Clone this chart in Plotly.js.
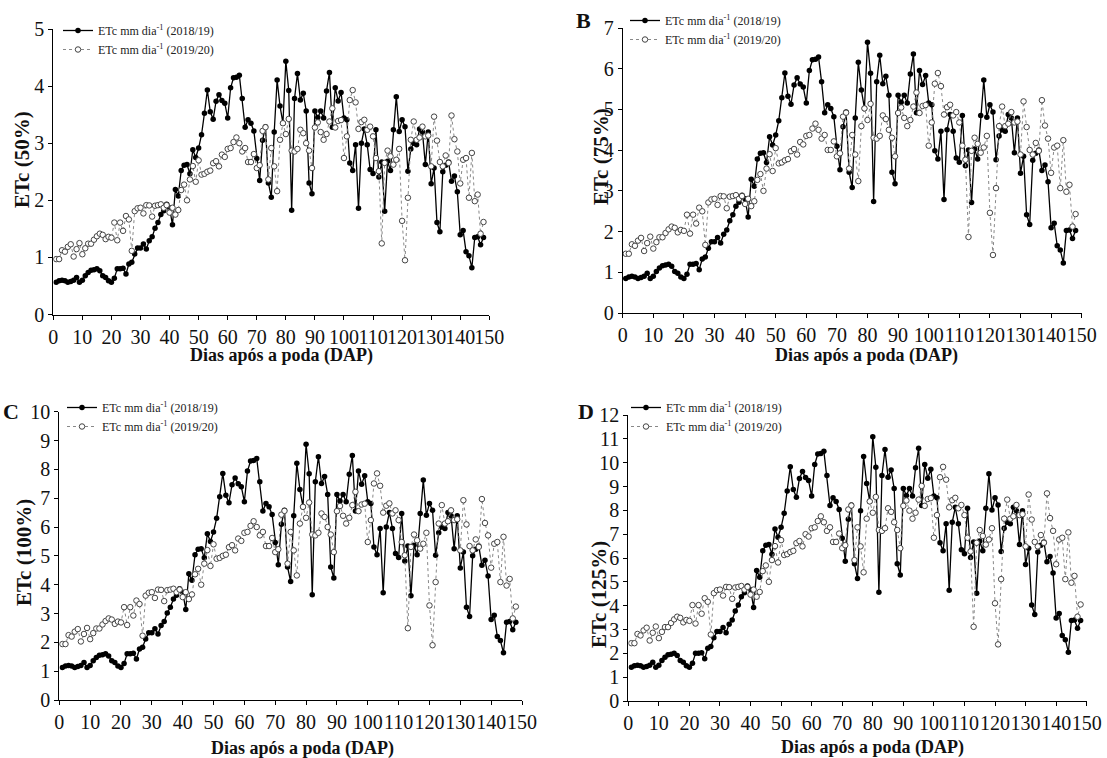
<!DOCTYPE html>
<html>
<head>
<meta charset="utf-8">
<script src="https://cdn.plot.ly/plotly-3.0.1.min.js"></script>
<style>html,body{margin:0;padding:0;background:#fff;}#chart{width:1107px;height:758px;}</style>
</head>
<body>
<div id="chart"></div>
<script>
// Days after pruning (DAP)
const days = Array.from({length: 148}, (_, i) => i + 1);

// ETc (mm dia-1) at 100% level, season 2018/19 (filled markers)
const etc2018 = [
  1.13,1.18,1.20,1.18,1.13,1.16,1.20,1.30,1.13,1.20,
  1.36,1.47,1.55,1.57,1.60,1.53,1.36,1.30,1.18,1.13,
  1.27,1.60,1.60,1.62,1.42,1.77,1.83,2.12,2.33,2.33,
  2.47,2.29,2.58,2.72,3.02,3.22,3.50,3.63,3.86,3.74,
  3.14,4.38,4.15,5.04,5.23,5.25,4.93,5.77,5.50,5.83,
  6.30,7.05,7.86,7.10,6.84,7.47,7.70,7.50,7.40,6.88,
  7.94,8.29,8.31,8.38,7.57,6.56,6.82,6.70,6.43,5.46,
  4.69,6.10,6.58,4.61,4.11,6.39,8.21,7.30,6.70,8.87,
  7.85,3.65,7.57,8.44,7.51,7.75,7.13,4.61,4.23,7.13,
  6.90,7.13,6.88,7.83,8.48,6.56,7.94,7.48,7.78,6.88,
  6.82,5.31,5.04,5.95,3.72,6.00,6.50,5.95,5.08,4.94,
  6.47,4.82,5.34,3.62,5.37,5.04,6.47,7.63,6.41,6.82,
  6.58,5.02,5.80,6.00,5.95,6.50,6.39,5.25,6.39,4.58,
  5.13,3.22,2.90,5.00,5.23,5.34,4.67,4.85,4.30,2.79,
  2.94,2.20,2.06,1.64,2.70,2.72,2.44,2.70
];

// ETc (mm dia-1) at 100% level, season 2019/20 (open markers)
const etc2019 = [
  1.94,1.94,2.25,2.20,2.37,2.46,2.03,2.29,2.50,2.11,
  2.32,2.48,2.48,2.62,2.74,2.83,2.79,2.64,2.72,2.69,
  3.22,2.60,3.22,2.93,3.45,3.33,2.23,3.62,3.72,3.74,
  3.54,3.83,3.82,3.43,3.81,3.83,3.86,3.74,3.83,3.57,
  3.74,3.50,3.66,4.36,4.55,4.00,4.73,5.20,4.65,5.40,
  4.90,4.93,5.00,5.04,5.30,5.37,5.19,5.60,5.52,5.80,
  5.83,6.04,6.20,6.00,5.71,5.83,5.34,5.34,5.62,5.13,
  5.23,6.43,6.56,4.73,5.83,5.19,4.32,6.12,6.70,6.32,
  6.85,5.74,5.71,5.80,6.47,6.35,6.00,5.74,5.13,6.55,
  6.73,6.39,6.12,6.32,6.76,7.22,6.55,6.78,6.81,5.48,
  6.24,7.51,7.86,7.43,6.50,6.74,6.82,6.47,6.58,6.24,
  5.48,5.02,2.49,5.31,5.74,5.54,5.25,5.42,5.80,3.28,
  1.90,4.09,6.12,6.76,6.12,6.20,6.58,6.24,6.27,5.19,
  6.93,6.09,5.34,5.19,5.57,5.31,6.97,6.14,5.71,4.59,
  5.42,5.48,4.09,5.66,3.97,4.20,2.83,3.24
];

// Irrigation levels (fraction of ETc) for panels A-D
const levels = [0.50, 0.75, 1.00, 1.25];
const yTitles = ['ETc (50%)', 'ETc (75%)', 'ETc (100%)', 'ETc (125%)'];
const yMax = [5, 7, 10, 12];
const panelLetters = ['', 'B', 'C', 'D'];
const seriesNames = ['ETc mm dia<sup>-1</sup> (2018/19)', 'ETc mm dia<sup>-1</sup> (2019/20)'];
const xTitle = 'Dias após a poda (DAP)';

const W = 1107, H = 758;
const px = v => v / W;
const py = v => 1 - v / H;

// pixel boxes [left, right, top, bottom]
const boxes = [
  [53.3, 489.3, 29, 314.5],
  [622.7, 1081.7, 28, 313],
  [59.3, 522, 411.7, 700],
  [628.3, 1086.7, 415, 701]
];
const legendPos = [[58, 16], [625, 6], [62, 393], [626, 393]];
const yTitlePos = [[22, 160], [601, 157], [24, 553], [599, 595]];
const xTitlePos = [[281, 355], [866, 356], [302, 748], [872, 747]];
const letterPos = [[0, 0], [584, 20], [11, 411], [586, 411]];

const FONT = 'Liberation Serif';
const traces = [];
const layout = {
  width: W, height: H,
  margin: {l: 0, r: 0, t: 0, b: 0},
  paper_bgcolor: '#fff', plot_bgcolor: '#fff',
  font: {family: FONT, color: '#111'},
  showlegend: true,
  annotations: []
};

levels.forEach((lv, p) => {
  const sfx = p === 0 ? '' : String(p + 1);
  const lg = 'legend' + sfx;
  traces.push({
    x: days, y: etc2018.map(v => v * lv),
    xaxis: 'x' + sfx, yaxis: 'y' + sfx, legend: lg,
    name: seriesNames[0], type: 'scatter', mode: 'lines+markers',
    line: {color: '#000', width: 1.3},
    marker: {size: 5.5, color: '#000', symbol: 'circle'}
  });
  traces.push({
    x: days, y: etc2019.map(v => v * lv),
    xaxis: 'x' + sfx, yaxis: 'y' + sfx, legend: lg,
    name: seriesNames[1], type: 'scatter', mode: 'lines+markers',
    line: {color: '#888', width: 1, dash: 'dot'},
    marker: {size: 5.5, color: '#fff', symbol: 'circle', line: {color: '#444', width: 1}}
  });
  const b = boxes[p];
  const axBase = {
    showline: true, linecolor: '#000', linewidth: 1,
    ticks: 'outside', ticklen: 4, tickcolor: '#000', tickwidth: 1,
    showgrid: false, zeroline: false, tickangle: 0,
    tickfont: {family: FONT, size: 20, color: '#111'}
  };
  layout['xaxis' + sfx] = Object.assign({}, axBase, {
    domain: [px(b[0]), px(b[1])], anchor: 'y' + sfx,
    range: [0, 150], tick0: 0, dtick: 10
  });
  layout['yaxis' + sfx] = Object.assign({}, axBase, {
    domain: [py(b[3]), py(b[2])], anchor: 'x' + sfx,
    range: [0, yMax[p]], tick0: 0, dtick: 1
  });
  layout[lg] = {
    x: px(legendPos[p][0]), y: py(legendPos[p][1]),
    xanchor: 'left', yanchor: 'top',
    bgcolor: 'rgba(0,0,0,0)', borderwidth: 0,
    font: {family: FONT, size: 12, color: '#222'},
    itemwidth: 30, tracegroupgap: 0
  };
  layout.annotations.push({
    xref: 'paper', yref: 'paper', x: px(yTitlePos[p][0]), y: py(yTitlePos[p][1]),
    text: '<b>' + yTitles[p] + '</b>', textangle: -90, showarrow: false,
    xanchor: 'center', yanchor: 'middle',
    font: {family: FONT, size: 21, color: '#111'}
  });
  layout.annotations.push({
    xref: 'paper', yref: 'paper', x: px(xTitlePos[p][0]), y: py(xTitlePos[p][1]),
    text: '<b>' + xTitle + '</b>', showarrow: false,
    xanchor: 'center', yanchor: 'middle',
    font: {family: FONT, size: 18, color: '#111'}
  });
  if (panelLetters[p]) {
    layout.annotations.push({
      xref: 'paper', yref: 'paper', x: px(letterPos[p][0]), y: py(letterPos[p][1]),
      text: '<b>' + panelLetters[p] + '</b>', showarrow: false,
      xanchor: 'center', yanchor: 'middle',
      font: {family: FONT, size: 22, color: '#111'}
    });
  }
});

Plotly.newPlot('chart', traces, layout, {displayModeBar: false, staticPlot: true});
</script>
</body>
</html>
